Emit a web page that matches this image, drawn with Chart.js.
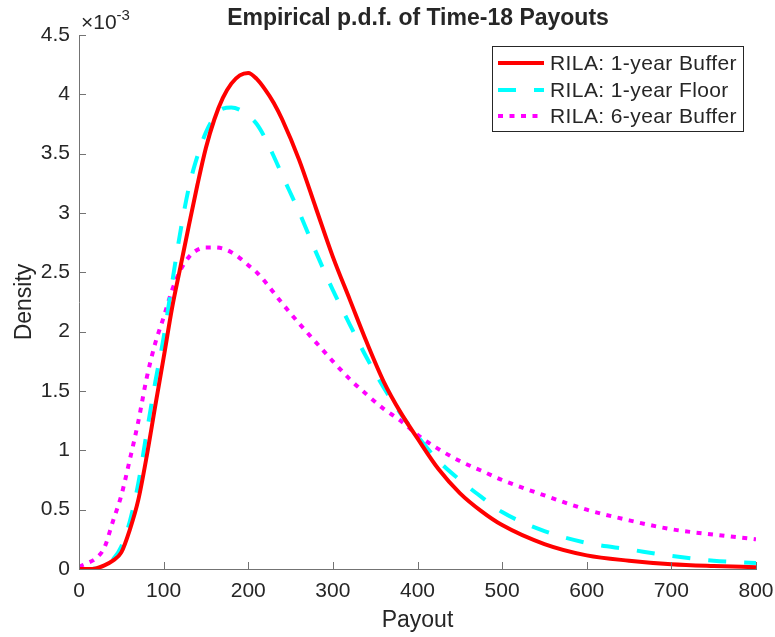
<!DOCTYPE html>
<html>
<head>
<meta charset="utf-8">
<script src="https://cdn.jsdelivr.net/npm/chart.js@4.4.1/dist/chart.umd.min.js"></script>
<style>
  html, body { margin: 0; padding: 0; background: #ffffff; }
  #wrap { width: 775px; height: 637px; position: relative; }
</style>
</head>
<body>
<div id="wrap"><canvas id="c" width="775" height="637"></canvas></div>
<script>
// ---- Data (density values in units of 1e-3) ----
const payout = [0, 10, 20, 30, 40, 50, 60, 70, 80, 90, 100, 110, 120, 130, 140, 150, 160, 170, 180, 190, 200, 210, 220, 230, 240, 260, 280, 300, 320, 340, 360, 380, 400, 425, 450, 475, 500, 550, 600, 650, 700, 750, 800];
const buffer1y = [0, 0, 0.005, 0.03, 0.07, 0.14, 0.33, 0.58, 0.95, 1.37, 1.78, 2.2, 2.55, 2.9, 3.24, 3.55, 3.79, 3.97, 4.09, 4.16, 4.18, 4.13, 4.04, 3.93, 3.79, 3.45, 3.04, 2.63, 2.27, 1.91, 1.58, 1.32, 1.1, 0.84, 0.64, 0.49, 0.37, 0.21, 0.115, 0.07, 0.04, 0.025, 0.015];
const floor1y = [0, 0, 0.005, 0.03, 0.08, 0.19, 0.4, 0.72, 1.15, 1.57, 1.95, 2.41, 2.85, 3.22, 3.48, 3.68, 3.81, 3.88, 3.89, 3.87, 3.82, 3.75, 3.63, 3.48, 3.32, 3.01, 2.67, 2.35, 2.06, 1.78, 1.53, 1.31, 1.12, 0.91, 0.75, 0.61, 0.48, 0.32, 0.22, 0.165, 0.11, 0.07, 0.05];
const buffer6y = [0.02, 0.05, 0.09, 0.18, 0.4, 0.62, 0.92, 1.24, 1.61, 1.9, 2.12, 2.35, 2.52, 2.63, 2.69, 2.71, 2.71, 2.7, 2.67, 2.62, 2.56, 2.5, 2.42, 2.33, 2.24, 2.07, 1.91, 1.75, 1.6, 1.47, 1.35, 1.25, 1.13, 1.01, 0.91, 0.83, 0.75, 0.62, 0.5, 0.41, 0.335, 0.29, 0.25];
const seriesNames = ['RILA: 1-year Buffer', 'RILA: 1-year Floor', 'RILA: 6-year Buffer'];
const xTicks = [0, 100, 200, 300, 400, 500, 600, 700, 800];
const yTicks = [0, 0.5, 1, 1.5, 2, 2.5, 3, 3.5, 4, 4.5];
const titleText = 'Empirical p.d.f. of Time-18 Payouts';
const xLabel = 'Payout';
const yLabel = 'Density';

const FONT = "'Liberation Sans', Arial, Helvetica, sans-serif";
const TXT = '#262626';
const AXIS = '#737373';

const toPts = ys => payout.map((x, i) => ({ x: x, y: ys[i] }));

const overlay = {
  id: 'overlay',
  afterDraw(chart) {
    const ctx = chart.ctx;
    const xs = chart.scales.x, ys = chart.scales.y;
    const ca = chart.chartArea;
    ctx.save();
    // inward ticks
    ctx.strokeStyle = AXIS;
    ctx.lineWidth = 1;
    ctx.beginPath();
    xTicks.forEach(v => {
      const px = Math.round(xs.getPixelForValue(v)) + 0.5;
      ctx.moveTo(px, ca.bottom); ctx.lineTo(px, ca.bottom - 7);
    });
    yTicks.forEach(v => {
      const py = Math.round(ys.getPixelForValue(v)) + 0.5;
      ctx.moveTo(ca.left, py); ctx.lineTo(ca.left + 7, py);
    });
    ctx.stroke();

    ctx.fillStyle = TXT;
    // title
    ctx.font = 'bold 23px ' + FONT;
    ctx.textAlign = 'center';
    ctx.textBaseline = 'alphabetic';
    ctx.fillText(titleText, 418, 25);
    // x label
    ctx.font = '23px ' + FONT;
    ctx.fillText(xLabel, (ca.left + ca.right) / 2, 627);
    // y label
    ctx.save();
    ctx.translate(31, (ca.top + ca.bottom) / 2);
    ctx.rotate(-Math.PI / 2);
    ctx.fillText(yLabel, 0, 0);
    ctx.restore();
    // exponent
    ctx.textAlign = 'left';
    ctx.font = '21px ' + FONT;
    ctx.fillText('\u00D710', 81, 29);
    const w = ctx.measureText('\u00D710').width;
    ctx.font = '15px ' + FONT;
    ctx.fillText('-3', 81 + w, 20);

    // legend
    const bx = 492.5, by = 46.5, bw = 251, bh = 85;
    ctx.fillStyle = '#ffffff';
    ctx.fillRect(bx, by, bw, bh);
    ctx.strokeStyle = '#262626';
    ctx.lineWidth = 1;
    ctx.strokeRect(bx, by, bw, bh);
    const rows = [63, 90, 116];
    chart.data.datasets.forEach((ds, i) => {
      const y = rows[i];
      ctx.save();
      ctx.strokeStyle = ds.borderColor;
      ctx.lineWidth = ds.borderWidth;
      ctx.setLineDash(ds.borderDash || []);
      ctx.lineCap = 'butt';
      ctx.beginPath();
      ctx.moveTo(498, y); ctx.lineTo(544, y);
      ctx.stroke();
      ctx.restore();
      ctx.save();
      ctx.fillStyle = TXT;
      ctx.font = '21px ' + FONT;
      if ('letterSpacing' in ctx) ctx.letterSpacing = '0.4px';
      ctx.textAlign = 'left';
      ctx.textBaseline = 'middle';
      ctx.fillText(ds.label, 550, y + 1);
      ctx.restore();
    });
    ctx.restore();
  }
};

new Chart(document.getElementById('c'), {
  type: 'line',
  data: {
    datasets: [
      { label: seriesNames[0], data: toPts(buffer1y), borderColor: '#ff0000', borderWidth: 4, pointRadius: 0, fill: false, cubicInterpolationMode: 'monotone' },
      { label: seriesNames[1], data: toPts(floor1y), borderColor: '#00ffff', borderWidth: 4, borderDash: [18, 18], pointRadius: 0, fill: false, cubicInterpolationMode: 'monotone' },
      { label: seriesNames[2], data: toPts(buffer6y), borderColor: '#ff00ff', borderWidth: 4, borderDash: [5, 6.5], pointRadius: 0, fill: false, cubicInterpolationMode: 'monotone' }
    ]
  },
  options: {
    responsive: false,
    animation: false,
    layout: { padding: { top: 35, right: 19, left: 0, bottom: 0 } },
    plugins: { legend: { display: false }, title: { display: false }, tooltip: { enabled: false } },
    scales: {
      x: {
        type: 'linear', min: 0, max: 800,
        afterBuildTicks: s => { s.ticks = xTicks.map(v => ({ value: v })); },
        afterFit: s => { s.height = 68; s.paddingLeft = 0; s.paddingRight = 0; },
        grid: { drawOnChartArea: false, drawTicks: false },
        border: { display: true, color: AXIS, width: 1 },
        ticks: { color: TXT, font: { family: FONT, size: 21 }, padding: 10, maxRotation: 0, autoSkip: false, callback: v => String(v) }
      },
      y: {
        type: 'linear', min: 0, max: 4.5,
        afterBuildTicks: s => { s.ticks = yTicks.map(v => ({ value: v })); },
        afterFit: s => { s.width = 79; s.paddingTop = 0; s.paddingBottom = 0; },
        grid: { drawOnChartArea: false, drawTicks: false },
        border: { display: true, color: AXIS, width: 1 },
        ticks: { color: TXT, font: { family: FONT, size: 21 }, padding: 9, autoSkip: false, callback: v => String(v) }
      }
    }
  },
  plugins: [overlay]
});
</script>
</body>
</html>
